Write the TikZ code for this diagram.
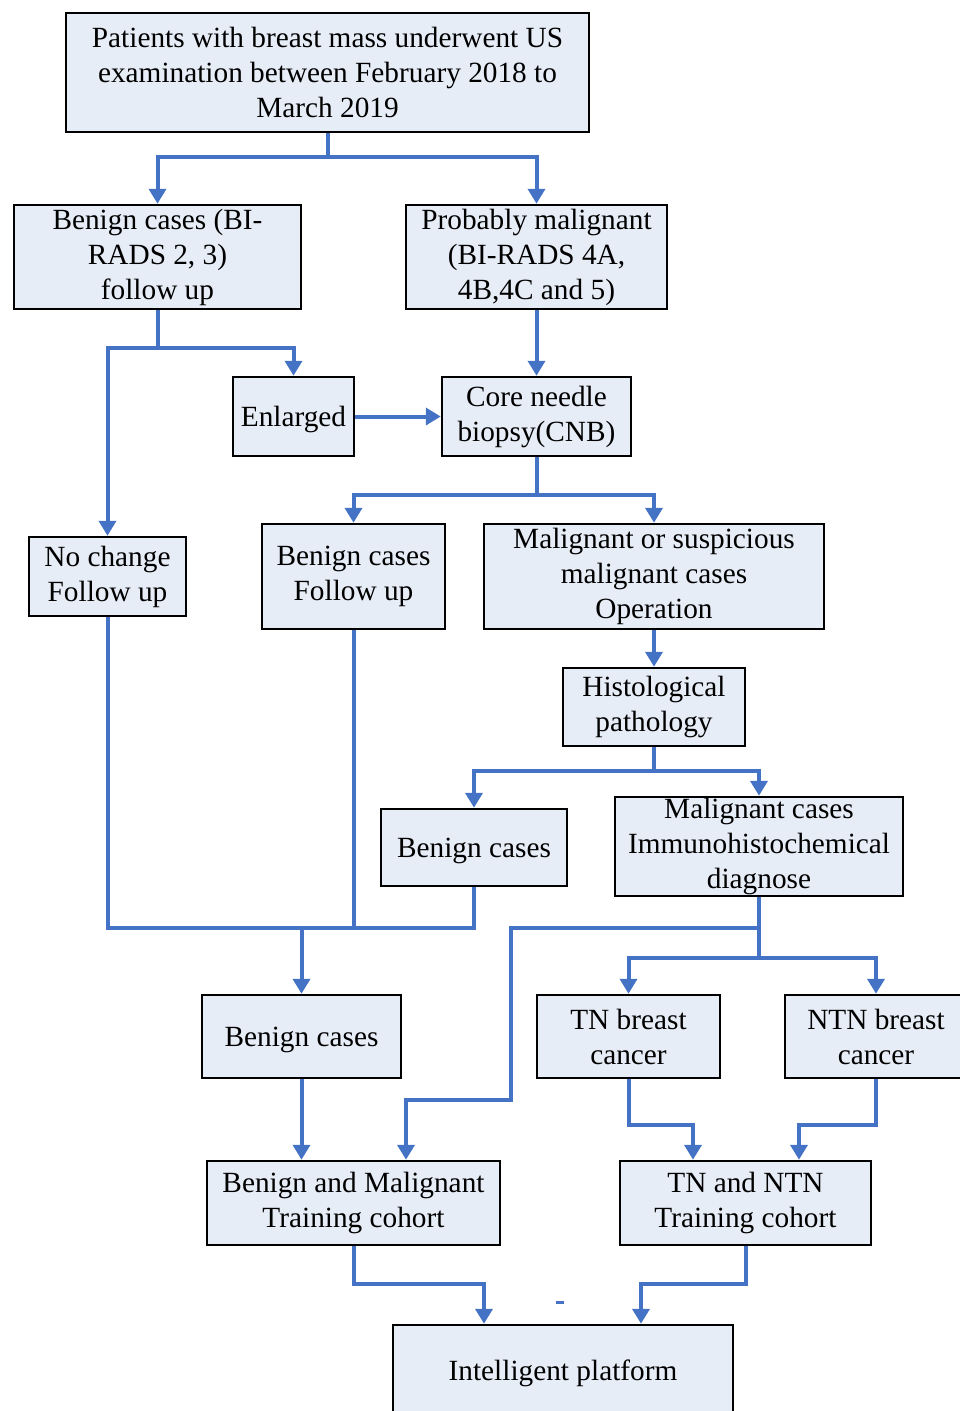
\documentclass[tikz,border=0pt]{standalone}
\usepackage{fontspec}
\setmainfont{Liberation Serif}
\usetikzlibrary{arrows.meta}
\definecolor{boxfill}{HTML}{E7EDF7}
\definecolor{conncol}{HTML}{4472C4}
\begin{document}
\begin{tikzpicture}[x=1pt,y=-1pt,
  box/.style={draw=black, line width=2.5pt, fill=boxfill, inner sep=0pt, align=center,
    font=\fontsize{29.3}{35}\selectfont, execute at begin node={\rule{0pt}{26.5pt}}},
  conn/.style={draw=conncol, line width=4pt},
  arr/.style={conn, -{Triangle[length=15pt,width=17pt]}}]
\useasboundingbox (0,0) rectangle (959,1411);
\node[box, minimum width=523pt, minimum height=119pt] (top) at (327.5,72.5)
  {Patients with breast mass underwent US\\examination between February 2018 to\\March 2019};
\node[box, minimum width=287pt, minimum height=104pt] (benign1) at (157.5,257)
  {Benign cases (BI-\\RADS 2, 3)\\follow up};
\node[box, minimum width=261pt, minimum height=104pt] (probmal) at (536.5,257)
  {Probably malignant\\(BI-RADS 4A,\\4B,4C and 5)};
\node[box, minimum width=121pt, minimum height=79pt] (enlarged) at (293.5,416.5) {Enlarged};
\node[box, minimum width=189pt, minimum height=79pt] (cnb) at (536.5,416.5) {Core needle\\biopsy(CNB)};
\node[box, minimum width=157pt, minimum height=79pt] (nochange) at (107.5,576.5) {No change\\Follow up};
\node[box, minimum width=183pt, minimum height=105pt] (benignfu) at (353.5,576.5) {Benign cases\\Follow up};
\node[box, minimum width=340pt, minimum height=105pt] (malop) at (654,576.5)
  {Malignant or suspicious\\malignant cases\\Operation};
\node[box, minimum width=182pt, minimum height=78pt] (histo) at (654,707) {Histological\\pathology};
\node[box, minimum width=186pt, minimum height=77pt] (benign2) at (474,847.5) {Benign cases};
\node[box, minimum width=288pt, minimum height=99pt] (malimm) at (759,846.5)
  {Malignant cases\\Immunohistochemical\\diagnose};
\node[box, minimum width=199pt, minimum height=83pt] (benign3) at (301.5,1036.5) {Benign cases};
\node[box, minimum width=183pt, minimum height=83pt] (tn) at (628.5,1036.5) {TN breast\\cancer};
\node[box, minimum width=182pt, minimum height=83pt] (ntn) at (876,1036.5) {NTN breast\\cancer};
\node[box, minimum width=293pt, minimum height=84pt] (bmcohort) at (353.5,1203)
  {Benign and Malignant\\Training cohort};
\node[box, minimum width=251pt, minimum height=84pt] (tncohort) at (745.5,1203)
  {TN and NTN\\Training cohort};
\node[box, minimum width=340pt, minimum height=90pt] (platform) at (563,1370) {Intelligent platform};
% connectors
\coordinate (j1) at (327.5,157);
\draw[conn] (top.south) -- (j1);
\draw[arr] (j1) -| (benign1.north);
\draw[arr] (j1) -| (probmal.north);
\coordinate (j2) at (157.5,348);
\draw[conn] (benign1.south) -- (j2);
\draw[arr] (j2) -| (enlarged.north);
\draw[arr] (j2) -| (nochange.north);
\draw[arr] (probmal.south) -- (cnb.north);
\draw[arr] (enlarged.east) -- (cnb.west);
\coordinate (j3) at (536.5,495);
\draw[conn] (cnb.south) -- (j3);
\draw[arr] (j3) -| (benignfu.north);
\draw[arr] (j3) -| (malop.north);
\draw[arr] (malop.south) -- (histo.north);
\coordinate (j4) at (654,771);
\draw[conn] (histo.south) -- (j4);
\draw[arr] (j4) -| (benign2.north);
\draw[arr] (j4) -| (malimm.north);
\coordinate (m) at (301.5,928);
\draw[conn] (nochange.south) |- (m);
\draw[conn] (benign2.south) |- (m);
\draw[conn] (benignfu.south) -- (benignfu.south |- m);
\draw[arr] (m) -- (benign3.north);
\coordinate (j5) at (759,958);
\draw[conn] (malimm.south) -- (j5);
\draw[arr] (j5) -| (tn.north);
\draw[arr] (j5) -| (ntn.north);
\coordinate (j6) at (759,928);
\coordinate (k1) at (511,928);
\coordinate (k2) at (406,1100);
\draw[arr] (j6) -- (k1) |- (k2) -- (k2 |- bmcohort.north);
\draw[arr] (benign3.south) -- (benign3.south |- bmcohort.north);
\coordinate (t1) at (693,1125);
\draw[arr] (tn.south) |- (t1) -- (t1 |- tncohort.north);
\coordinate (t2) at (799,1125);
\draw[arr] (ntn.south) |- (t2) -- (t2 |- tncohort.north);
\coordinate (p1) at (484,1284);
\draw[arr] (bmcohort.south) |- (p1) -- (p1 |- platform.north);
\coordinate (p2) at (641,1284);
\draw[arr] (tncohort.south) |- (p2) -- (p2 |- platform.north);
\coordinate (d1) at (556,1302);
\coordinate (d2) at (564,1302);
\draw[draw=conncol, line width=3pt] (d1) -- (d2);
\end{tikzpicture}
\end{document}
